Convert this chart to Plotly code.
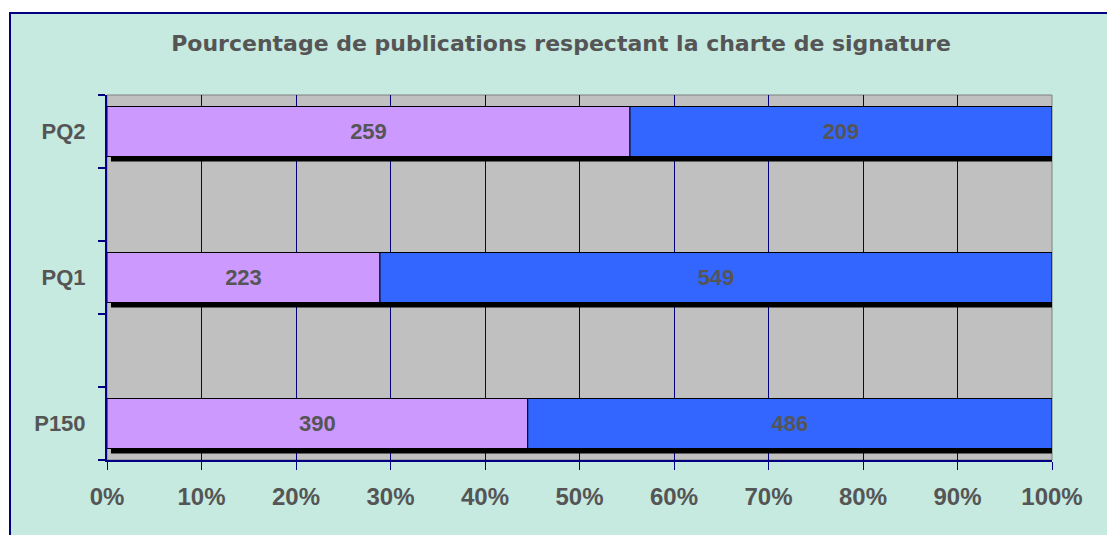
import plotly.graph_objects as go

# ---- data ----
categories = ["P150", "PQ1", "PQ2"]
cat_positions = [0, 2, 4]          # blank rows between the categories
respecting = [390, 223, 259]       # purple series
not_respecting = [486, 549, 209]   # blue series
x_ticks = [0, 10, 20, 30, 40, 50, 60, 70, 80, 90, 100]
x_tick_labels = ["0%", "10%", "20%", "30%", "40%", "50%", "60%", "70%", "80%", "90%", "100%"]
title_text = "Pourcentage de publications respectant la charte de signature"

totals = [a + b for a, b in zip(respecting, not_respecting)]
pct_a = [100.0 * a / t for a, t in zip(respecting, totals)]
pct_b = [100.0 * b / t for b, t in zip(not_respecting, totals)]

W, H = 1107, 535
L, R, T, B = 107, 55, 95, 75
PW, PH = W - L - R, H - T - B

def px(x):
    return (x - L) / PW

def py(y):
    return (H - B - y) / PH

BAR_W = 0.685
NAVY = "#000080"
TXT = "#555555"
BG = "#c6e9e0"

fig = go.Figure()

# shadow
fig.add_trace(go.Bar(
    y=cat_positions, x=[100.0] * 3, base=[0.42] * 3, orientation="h",
    width=BAR_W, offset=-BAR_W / 2 - 0.07,
    marker=dict(color="black", line=dict(width=0)),
    hoverinfo="skip", showlegend=False, cliponaxis=False,
))
fig.add_trace(go.Bar(
    y=cat_positions, x=pct_a, base=[0] * 3, orientation="h",
    width=BAR_W, offset=-BAR_W / 2,
    marker=dict(color="#CC99FF", line=dict(color="black", width=1)),
    text=[str(v) for v in respecting], textposition="inside",
    insidetextanchor="middle", textangle=0, constraintext="none",
    textfont=dict(family="Liberation Sans", size=22, color=TXT, weight="bold"),
    showlegend=False, name="Respecte",
))
fig.add_trace(go.Bar(
    y=cat_positions, x=pct_b, base=pct_a, orientation="h",
    width=BAR_W, offset=-BAR_W / 2,
    marker=dict(color="#3366FF", line=dict(color="black", width=1)),
    text=[str(v) for v in not_respecting], textposition="inside",
    insidetextanchor="middle", textangle=0, constraintext="none",
    textfont=dict(family="Liberation Sans", size=22, color=TXT, weight="bold"),
    showlegend=False, name="Ne respecte pas",
))

fig.update_layout(
    width=W, height=H,
    margin=dict(l=L, r=R, t=T, b=B),
    barmode="overlay",
    paper_bgcolor="white",
    plot_bgcolor="#C0C0C0",
    title=dict(text=title_text, x=px(561), xref="paper", xanchor="center",
               y=1 - 43 / H, yanchor="middle",
               font=dict(family="DejaVu Sans", size=22, color=TXT, weight="bold")),
    xaxis=dict(
        range=[0, 100], tickvals=x_ticks, ticktext=x_tick_labels,
        showgrid=True, gridcolor=NAVY, gridwidth=1,
        showline=True, linecolor=NAVY, linewidth=2,
        ticks="outside", ticklen=8, tickcolor=NAVY, tickwidth=1,
        ticklabelstandoff=6,
        tickfont=dict(family="Liberation Sans", size=24, color=TXT, weight="bold"),
        zeroline=False, fixedrange=True,
    ),
    yaxis=dict(
        range=[-0.5, 4.5], tickvals=cat_positions, ticktext=categories,
        showgrid=False, showline=True, linecolor=NAVY, linewidth=2,
        ticks="", ticklabelstandoff=15,
        minor=dict(tickvals=[-0.5, 0.5, 1.5, 2.5, 3.5, 4.5], ticks="outside",
                   ticklen=7, tickcolor=NAVY, tickwidth=2, showgrid=False),
        tickfont=dict(family="Liberation Sans", size=22, color=TXT, weight="bold"),
        zeroline=False, fixedrange=True,
    ),
    shapes=[
        # patterned background panel (solid approximation)
        dict(type="rect", xref="paper", yref="paper",
             x0=px(10), x1=px(1110), y0=py(540), y1=py(13),
             fillcolor=BG, line=dict(width=0), layer="below"),
        # plot area background
        dict(type="rect", xref="paper", yref="paper",
             x0=0, x1=1, y0=0, y1=1,
             fillcolor="#C0C0C0", line=dict(color="#808080", width=1), layer="below"),
        # frame border (left and top)
        dict(type="path", xref="paper", yref="paper",
             path=f"M {px(10)} {py(540)} L {px(10)} {py(13)} L {px(1110)} {py(13)}",
             line=dict(color=NAVY, width=2), layer="above"),
    ],
)

fig.write_html("out.html", config={"displayModeBar": False},
               post_script="document.body.style.margin='0';")
